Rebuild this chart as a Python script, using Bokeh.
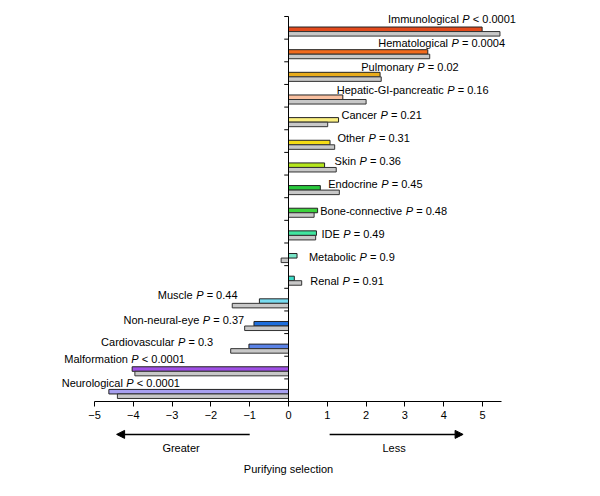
from bokeh.plotting import figure
from bokeh.models import Range1d, LinearAxis, FixedTicker, ColumnDataSource, Arrow, NormalHead
from bokeh.core.properties import value
from bokeh.embed import file_html
from bokeh.resources import INLINE

categories = ["Immunological", "Hematological", "Pulmonary", "Hepatic-GI-pancreatic", "Cancer",
              "Other", "Skin", "Endocrine", "Bone-connective", "IDE", "Metabolic", "Renal",
              "Muscle", "Non-neural-eye", "Cardiovascular", "Malformation", "Neurological"]
p_values = ["< 0.0001", "= 0.0004", "= 0.02", "= 0.16", "= 0.21", "= 0.31", "= 0.36", "= 0.45",
            "= 0.48", "= 0.49", "= 0.9", "= 0.91", "= 0.44", "= 0.37", "= 0.3", "< 0.0001", "< 0.0001"]
series_colored = [4.99, 3.59, 2.36, 1.40, 1.29, 1.07, 0.93, 0.82, 0.75, 0.72, 0.22, 0.15,
                  -0.75, -0.89, -1.02, -4.03, -4.63]
series_gray = [5.45, 3.64, 2.39, 2.00, 1.01, 1.19, 1.23, 1.31, 0.66, 0.70, -0.19, 0.34,
               -1.45, -1.13, -1.49, -3.96, -4.41]
bar_colors = ["#e34a1c", "#f26b1d", "#e8ac1c", "#f9c0a0", "#fbf080", "#f5dc14", "#b4e61e",
              "#28c83c", "#3cd23c", "#40e6a0", "#78e6c8", "#3cdcc8", "#78dcf0", "#1e6edc",
              "#5a82e6", "#a050e6", "#a8a0f0"]
x_ticks = [-5, -4, -3, -2, -1, 0, 1, 2, 3, 4, 5]

# layout: where the italic "P" of each label starts (x units) and label offset within band
label_anchor = [4.48, 4.20, 3.32, 4.09, 2.37, 2.06, 1.83, 2.39, 3.02, 1.41, 1.83, 1.39,
                -2.38, -2.21, -2.85, -4.05, -4.18]
label_dy = [0.10, 0.15, 0.24, 0.24, 0.34, 0.35, 0.39, 0.39, 0.60, 0.61, 0.64, 0.70,
            0.30, 0.38, 0.36, 0.14, 0.17]

FONT = "Liberation Sans"
FS = "11px"
n = len(categories)

p = figure(width=584, height=480, output_backend="svg", toolbar_location=None,
           x_range=Range1d(-7.423, 7.629), y_range=Range1d(20.486, -0.706),
           x_axis_type=None, y_axis_type=None,
           min_border_left=0, min_border_right=0, min_border_top=0, min_border_bottom=0)
p.outline_line_color = None
p.xgrid.visible = False
p.ygrid.visible = False

idx = list(range(n))
src = ColumnDataSource(dict(
    y_c=[i + 0.565 for i in idx], y_g=[i + 0.765 for i in idx],
    v_c=series_colored, v_g=series_gray, color=bar_colors,
    name_x=[a - 0.09 for a in label_anchor], p_x=label_anchor,
    v_x=[a + 0.27 for a in label_anchor],
    lab_y=[i + d for i, d in zip(idx, label_dy)],
    name=categories, P=["P"] * n, pv=p_values,
))

p.hbar(y="y_c", left=0, right="v_c", height=0.2, fill_color="color",
       line_color="#222222", line_width=1, source=src)
p.hbar(y="y_g", left=0, right="v_g", height=0.2, fill_color="#c8c8c8",
       line_color="#333333", line_width=1, source=src)

# vertical axis at x = 0 with ticks on category boundaries
p.segment(x0=[0], y0=[0], x1=[0], y1=[n], line_color="black", line_width=1)
p.segment(x0=[0] * n, y0=idx, x1=[-0.11] * n, y1=idx, line_color="black", line_width=1)

p.text(x="name_x", y="lab_y", text="name", source=src, text_align="right",
       text_baseline="middle", text_font=value(FONT), text_font_size=FS, text_color="black")
p.text(x="p_x", y="lab_y", text="P", source=src, text_align="left",
       text_baseline="middle", text_font=value(FONT), text_font_size=FS,
       text_font_style="italic", text_color="black")
p.text(x="v_x", y="lab_y", text="pv", source=src, text_align="left",
       text_baseline="middle", text_font=value(FONT), text_font_size=FS, text_color="black")

xaxis = LinearAxis(fixed_location=n, ticker=FixedTicker(ticks=x_ticks), bounds=(-5, 5.5))
xaxis.major_label_overrides = {t: (str(t).replace("-", "\u2212")) for t in x_ticks}
xaxis.major_tick_in = 0
xaxis.major_tick_out = 5
xaxis.minor_tick_line_color = None
xaxis.axis_line_color = "black"
xaxis.major_tick_line_color = "black"
xaxis.major_label_text_font = FONT
xaxis.major_label_text_font_size = FS
xaxis.major_label_text_color = "black"
xaxis.major_label_standoff = 4
p.add_layout(xaxis, "below")

p.add_layout(Arrow(x_start=-1.0, y_start=18.45, x_end=-4.43, y_end=18.45, line_width=1.5,
                   end=NormalHead(size=8, fill_color="black", line_color="black")))
p.add_layout(Arrow(x_start=1.06, y_start=18.45, x_end=4.50, y_end=18.45, line_width=1.5,
                   end=NormalHead(size=8, fill_color="black", line_color="black")))
p.text(x=[-2.77, 2.72], y=[19.04, 19.04], text=["Greater", "Less"], text_align="center",
       text_baseline="middle", text_font=value(FONT), text_font_size=FS, text_color="black")
p.text(x=[0.0], y=[20.0], text=["Purifying selection"], text_align="center",
       text_baseline="middle", text_font=value(FONT), text_font_size=FS, text_color="black")

open("out.html", "w").write(file_html(p, INLINE))
